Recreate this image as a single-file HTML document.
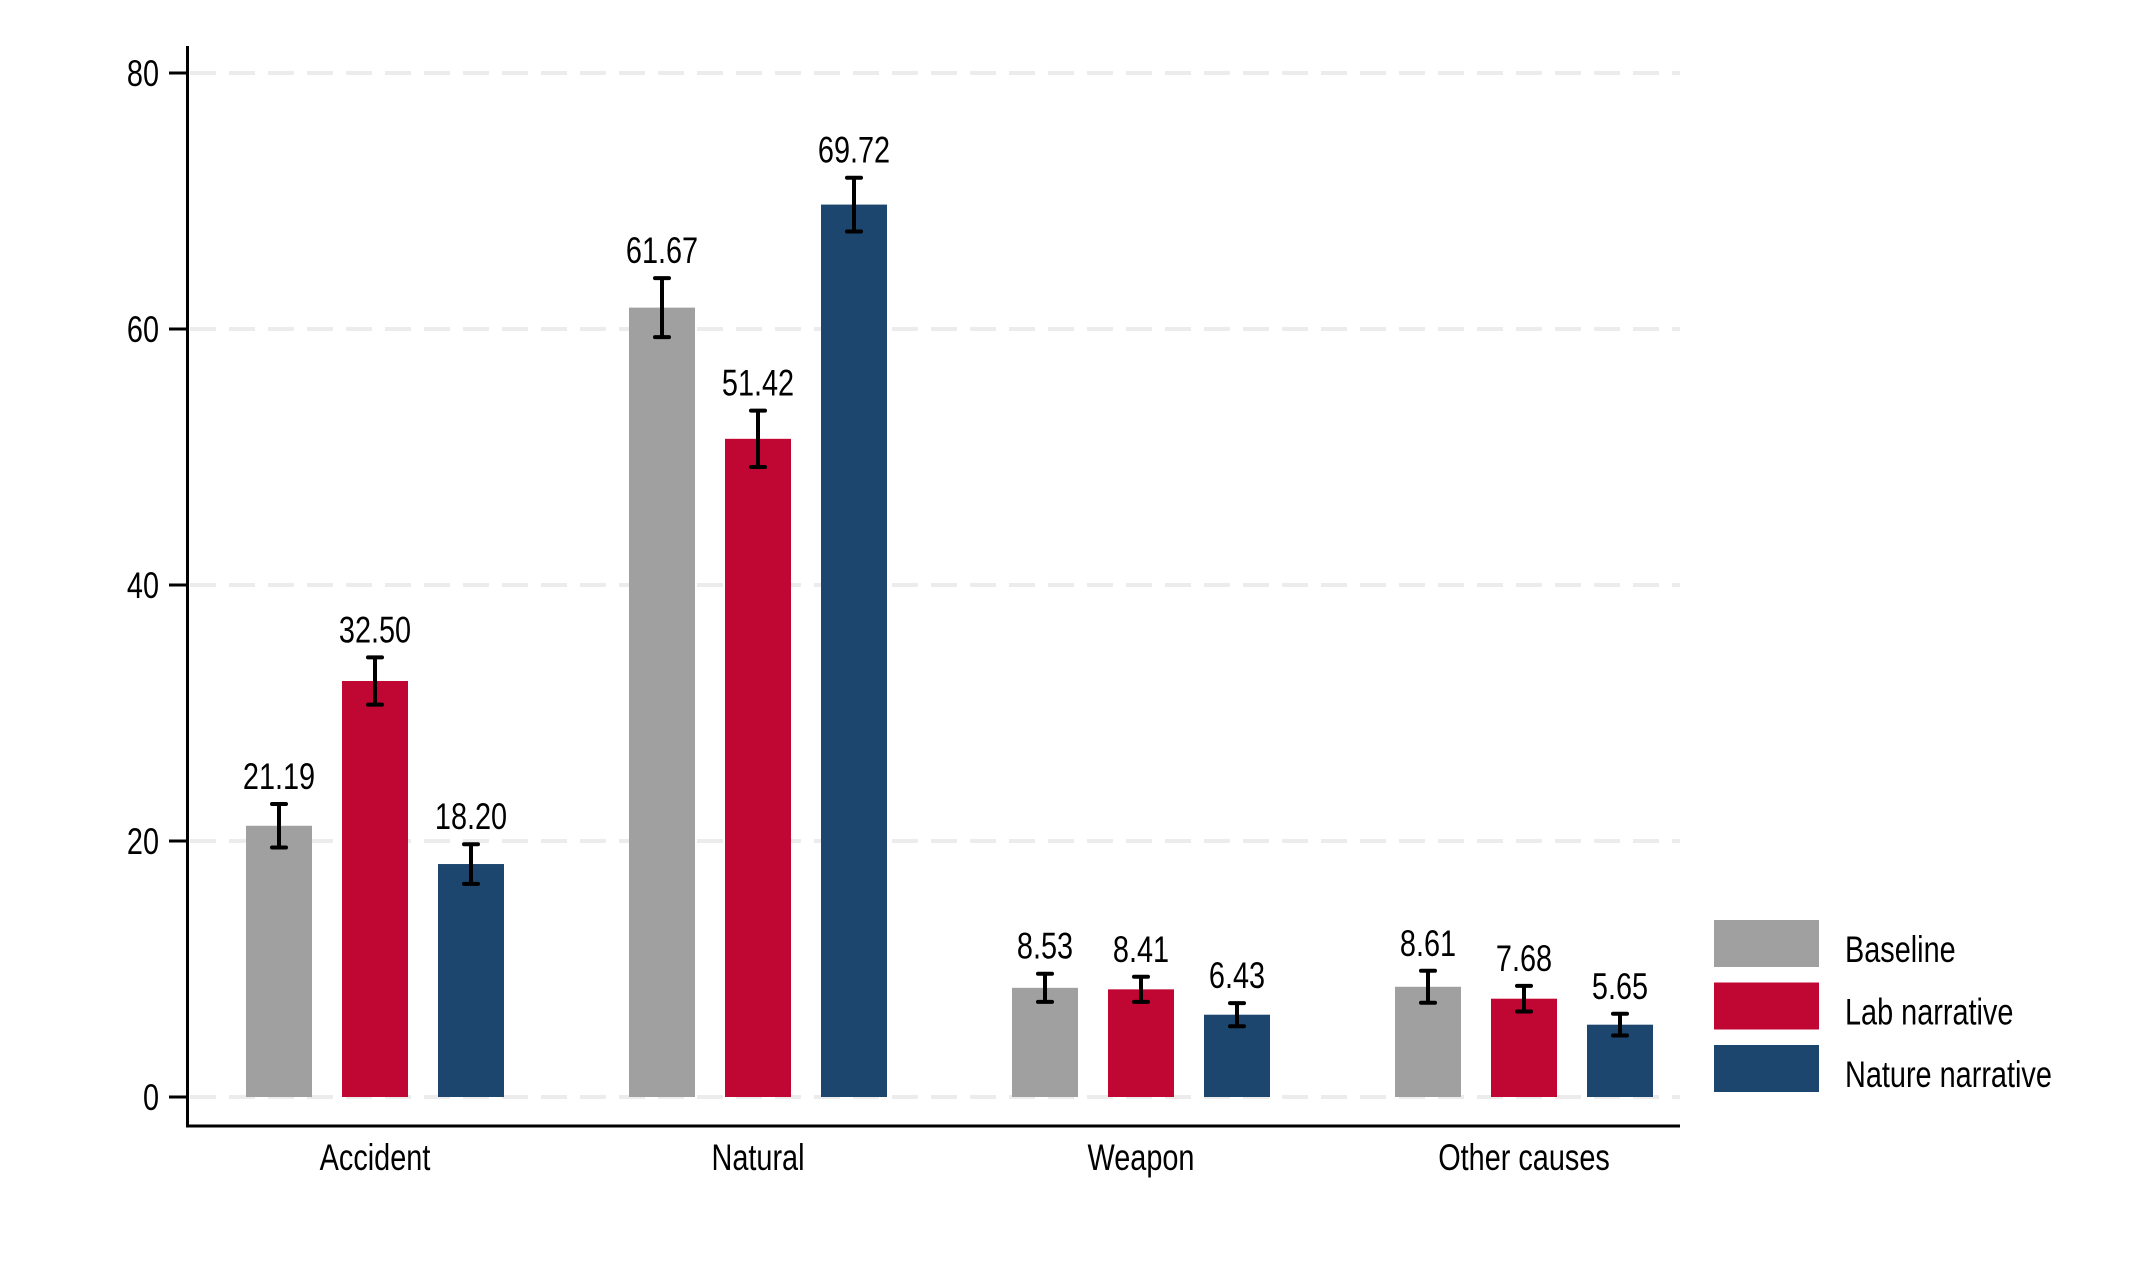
<!DOCTYPE html>
<html><head><meta charset="utf-8"><style>
html,body{margin:0;padding:0;background:#fff;}
svg{display:block;}
text{font-family:"Liberation Sans",sans-serif;font-size:37px;fill:#000;}
</style></head><body>
<svg id="chart" width="2146" height="1288" viewBox="0 0 2146 1288" xmlns="http://www.w3.org/2000/svg">
<rect width="2146" height="1288" fill="#fff"/>
<g id="grid"></g>
<g id="bars"></g>
<g id="axes"></g>
<g id="legend"></g>
</svg>
<script>
const categories = ["Accident","Natural","Weapon","Other causes"];
const seriesNames = ["Baseline","Lab narrative","Nature narrative"];
const baseline = [21.19, 61.67, 8.53, 8.61];
const lab = [32.50, 51.42, 8.41, 7.68];
const nature = [18.20, 69.72, 6.43, 5.65];
const baselineErr = [1.7, 2.3, 1.1, 1.25];
const labErr = [1.85, 2.2, 0.98, 1.0];
const natureErr = [1.55, 2.1, 0.9, 0.85];
const yTicks = [0, 20, 40, 60, 80];

const NS = "http://www.w3.org/2000/svg";
const colors = ["#a0a0a0","#c00633","#1c466e"];
const series = [baseline, lab, nature];
const errs = [baselineErr, labErr, natureErr];
const y0 = 1097, pxPerUnit = 12.8;
function y(v){ return y0 - v * pxPerUnit; }
function groupCenter(i){ return 375 + i * 383; }
function barCenter(i, s){ return groupCenter(i) + (s - 1) * 96; }
const barW = 66;
function el(tag, attrs, parent){
  const e = document.createElementNS(NS, tag);
  for (const k in attrs) e.setAttribute(k, attrs[k]);
  parent.appendChild(e);
  return e;
}
function txt(x, yy, anchor, parent){
  return el('text', {x:0, y:0, 'text-anchor':anchor, transform:`translate(${x},${yy}) scale(0.78,1)`}, parent);
}
const grid = document.getElementById('grid');
const bars = document.getElementById('bars');
const axes = document.getElementById('axes');
const legend = document.getElementById('legend');

yTicks.forEach(t => {
  const g = el('line', {x1:190, x2:1680, y1:y(t), y2:y(t), stroke:'#ececec', 'stroke-width':4, 'stroke-dasharray':'26 13'}, grid);
  
  
  const tk = el('line', {x1:169, x2:187, y1:y(t), y2:y(t), stroke:'#000', 'stroke-width':3}, axes);
  
  
  const lb = txt(159, y(t) + 13, 'end', axes);
  lb.textContent = t;
  
  
});

const ya = el('line', {x1:187.5, x2:187.5, y1:46, y2:1127.5, stroke:'#000', 'stroke-width':3}, axes);


const xa = el('line', {x1:186, x2:1680, y1:1126, y2:1126, stroke:'#000', 'stroke-width':3}, axes);



categories.forEach((c, i) => {
  const cl = txt(groupCenter(i), 1170, 'middle', axes);
  cl.textContent = c;
  
  
  series.forEach((s, si) => {
    const v = s[i], e = errs[si][i], cx = barCenter(i, si);
    const r = el('rect', {x:cx - barW/2, y:y(v), width:barW, height:y0 - y(v), fill:colors[si]}, bars);
    
    
    const eb = el('path', {d:`M${cx},${y(v+e)}V${y(v-e)}M${cx-7},${y(v+e)}H${cx+7}M${cx-7},${y(v-e)}H${cx+7}`, stroke:'#000', 'stroke-width':4, fill:'none', 'stroke-linecap':'round'}, bars);
    
    
    const vl = txt(cx, y(v+e) - 15, 'middle', bars);
    vl.textContent = v.toFixed(2);
    
    
  });
});

seriesNames.forEach((n, si) => {
  const top = 920 + si * 62.5;
  const sw = el('rect', {x:1714, y:top, width:105, height:47, fill:colors[si]}, legend);
  
  
  const lt = txt(1845, top + 42, 'start', legend);
  lt.textContent = n;
  
  
});
</script>
</body></html>
